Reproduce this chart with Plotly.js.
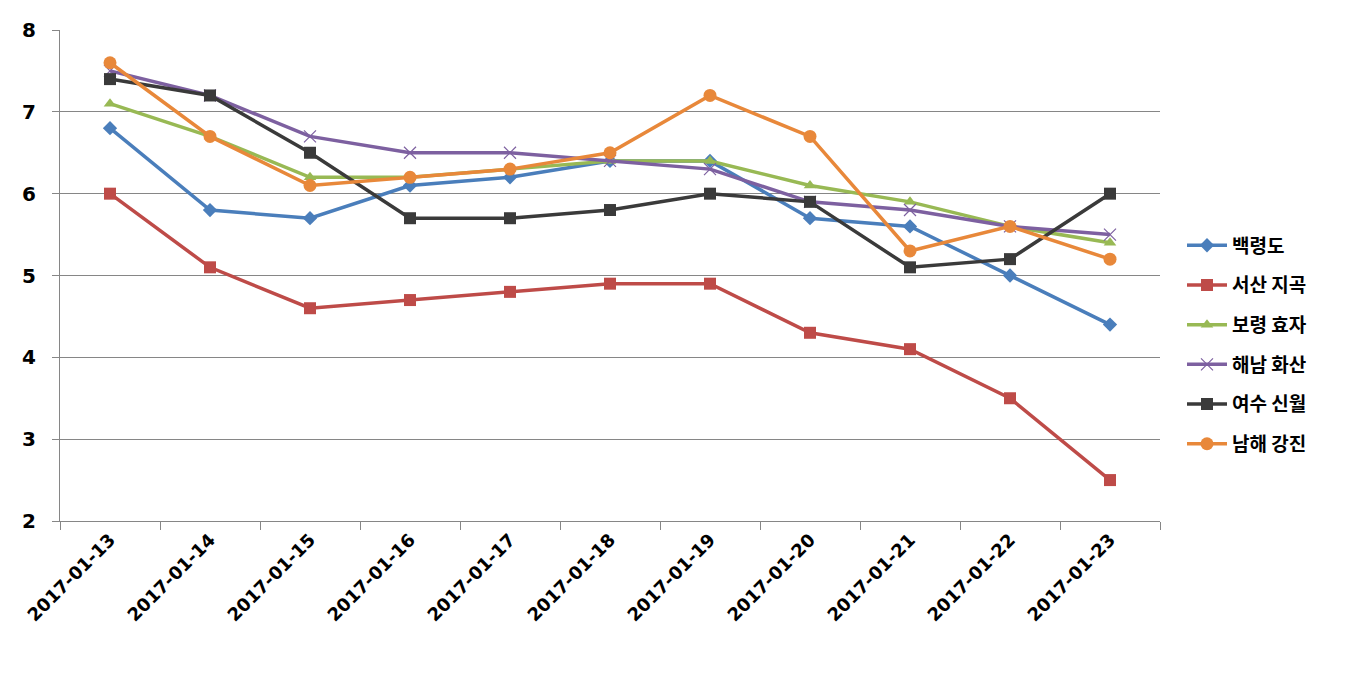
<!DOCTYPE html>
<html><head><meta charset="utf-8">
<script src="https://cdn.plot.ly/plotly-3.0.1.min.js"></script>
<style>html,body{margin:0;padding:0;background:#fff}#chart{width:1350px;height:679px}</style>
</head><body><div id="chart"></div>
<script>
const dates = ["2017-01-13","2017-01-14","2017-01-15","2017-01-16","2017-01-17","2017-01-18","2017-01-19","2017-01-20","2017-01-21","2017-01-22","2017-01-23"];
const seriesNames = ["백령도","서산 지곡","보령 효자","해남 화산","여수 신월","남해 강진"];
const baengnyeongdo = [6.8,5.8,5.7,6.1,6.2,6.4,6.4,5.7,5.6,5.0,4.4];
const seosanJigok   = [6.0,5.1,4.6,4.7,4.8,4.9,4.9,4.3,4.1,3.5,2.5];
const boryeongHyoja = [7.1,6.7,6.2,6.2,6.3,6.4,6.4,6.1,5.9,5.6,5.4];
const haenamHwasan  = [7.5,7.2,6.7,6.5,6.5,6.4,6.3,5.9,5.8,5.6,5.5];
const yeosuSinwol   = [7.4,7.2,6.5,5.7,5.7,5.8,6.0,5.9,5.1,5.2,6.0];
const namhaeGangjin = [7.6,6.7,6.1,6.2,6.3,6.5,7.2,6.7,5.3,5.6,5.2];
const yTicks = [2,3,4,5,6,7,8];

const values = [baengnyeongdo,seosanJigok,boryeongHyoja,haenamHwasan,yeosuSinwol,namhaeGangjin];
const colors = ["#4A7EBB","#BE4B48","#98B954","#7D60A0","#3A3A3A","#E8883A"];
const symbols = ["diamond","square","triangle-up","x-thin","square","circle"];
const sizes = [11,12,11,12,12,13];

const traces = values.map((v,i)=>({
  type:"scatter", mode:"lines+markers", x:dates, y:v, name:seriesNames[i],
  legendgroup:"g"+i,
  line:{color:colors[i], width:3.5},
  marker:{symbol:symbols[i], size:sizes[i], color:colors[i], line:{color:colors[i], width: symbols[i]==="x-thin"?1.2:0}}
}));

const layout = {
  width:1350, height:679,
  margin:{l:60, r:190, t:30, b:158},
  paper_bgcolor:"#fff", plot_bgcolor:"#fff",
  font:{family:"'Noto Sans CJK KR', 'DejaVu Sans', sans-serif", color:"#000"},
  xaxis:{type:"category", categoryorder:"array", categoryarray:dates,
    showgrid:false, showline:true, linecolor:"#868686", linewidth:1.2,
    ticks:"outside", tickson:"boundaries", ticklen:8, tickcolor:"#868686",
    tickangle:-45, tickfont:{family:"'DejaVu Sans', sans-serif", size:18, color:"#000", weight:"bold"},
    range:[-0.5,10.5], zeroline:false},
  yaxis:{range:[2,8], tickvals:yTicks, showgrid:true, gridcolor:"#868686", gridwidth:1.2,
    showline:true, linecolor:"#868686", linewidth:1.2, ticks:"outside", ticklen:7, tickcolor:"#868686",
    tickfont:{family:"'DejaVu Sans', sans-serif", size:20, color:"#000", weight:"bold"},
    zeroline:false, ticklabelstandoff:12},
  legend:{x:1.02, xanchor:"left", y:0.6, yanchor:"top", traceorder:"grouped", tracegroupgap:12,
    font:{family:"'Noto Sans CJK KR', sans-serif", size:19, color:"#000", weight:"bold"},
    bgcolor:"rgba(0,0,0,0)", itemwidth:40},
  showlegend:true
};
Plotly.newPlot("chart", traces, layout, {displayModeBar:false, staticPlot:true});
</script></body></html>
